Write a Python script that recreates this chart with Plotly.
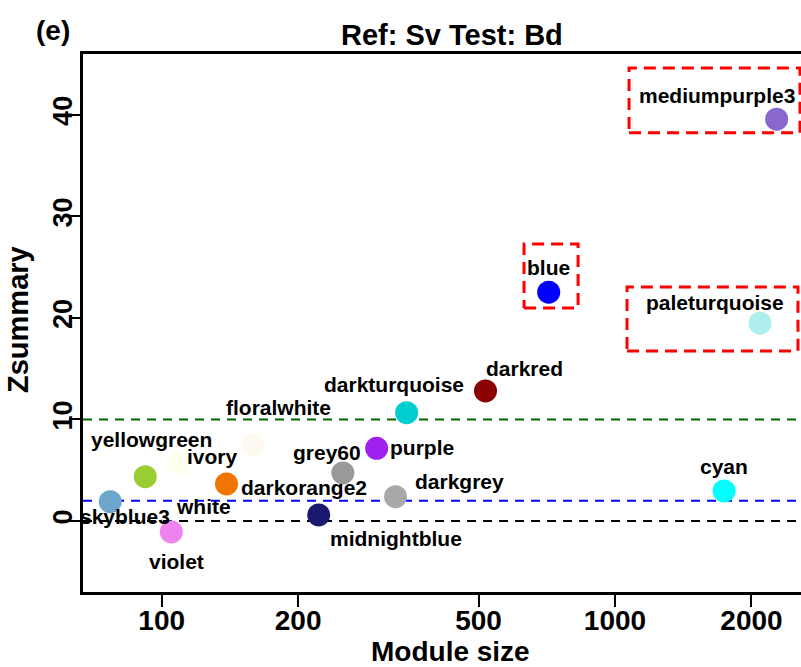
import numpy as np
import plotly.graph_objects as go

# ---- data ----
modules = ["skyblue3", "yellowgreen", "ivory", "violet", "darkorange2", "white",
           "floralwhite", "midnightblue", "grey60", "purple", "darkgrey",
           "darkturquoise", "darkred", "cyan", "blue", "paleturquoise", "mediumpurple3"]
module_size = [77, 92, 109, 105, 139, 122, 159, 222, 251, 298, 328, 347, 518, 1740, 714, 2089, 2273]
zsummary = [1.90, 4.36, 5.71, -1.08, 3.65, 3.25, 7.49, 0.59, 4.73, 7.16, 2.39,
            10.67, 12.81, 2.96, 22.53, 19.48, 39.58]
module_colors = ["#6CA6CD", "#9ACD32", "#FFFFF0", "#EE82EE", "#EE7600", "#FFFFFF",
                 "#FFFAF0", "#191970", "#999999", "#A020F0", "#A9A9A9",
                 "#00CED1", "#8B0000", "#00FFFF", "#0000FF", "#AFEEEE", "#8968CD"]
thresholds = [0, 2, 10]
threshold_colors = ["black", "blue", "darkgreen"]
x_ticks = [100, 200, 500, 1000, 2000]
y_ticks = [0, 10, 20, 30, 40]

# highlighted modules: box bounds (x0, x1, y0, y1) in data units
highlight_boxes = {
    "mediumpurple3": (1074, 2559, 38.23, 44.63),
    "blue": (630, 829, 20.99, 27.29),
    "paleturquoise": (1063, 2533, 16.75, 23.05),
}

# label pixel offsets (dx right, dy up) relative to each point
label_offsets = {
    "skyblue3": (15, -15), "yellowgreen": (6, 37), "ivory": (34, 6),
    "violet": (5, -30), "darkorange2": (77, -4), "white": (3, -19),
    "floralwhite": (26, 37), "midnightblue": (77, -24), "grey60": (-16, 20),
    "purple": (45, 1), "darkgrey": (64, 15), "darkturquoise": (-13, 28),
    "darkred": (39, 22), "cyan": (0, 24), "blue": (0, 25),
    "paleturquoise": (-45, 21), "mediumpurple3": (-60, 24),
}

FONT = "Liberation Sans"
W, H = 801, 667
ML, MR, MT, MB = 83, 0, 54, 75
pw, ph = W - ML - MR, H - MT - MB


def px(xp):
    return (xp - ML) / pw


def py(yp):
    return (H - MB - yp) / ph


fig = go.Figure()

# highlight boxes
for name, (x0, x1, y0, y1) in highlight_boxes.items():
    fig.add_trace(go.Scatter(
        x=[x0, x1, x1, x0, x0], y=[y0, y0, y1, y1, y0], mode="lines",
        line=dict(color="#FF0000", width=3, dash="12px,7px"),
        hoverinfo="skip", showlegend=False))

# points
fig.add_trace(go.Scatter(
    x=module_size, y=zsummary, mode="markers", text=modules,
    marker=dict(size=23, color=module_colors, line=dict(width=0)),
    showlegend=False))

annotations = []
for name, s, z in zip(modules, module_size, zsummary):
    dx, dy = label_offsets[name]
    annotations.append(dict(
        x=np.log10(s), y=z, xref="x", yref="y", text=name, showarrow=False,
        xshift=dx, yshift=dy, xanchor="center", yanchor="middle",
        font=dict(family=FONT, size=21, color="black", weight="bold")))

annotations += [
    dict(x=px(53), y=py(30), xref="paper", yref="paper", text="(e)", showarrow=False,
         xanchor="center", yanchor="middle",
         font=dict(family=FONT, size=28, color="black", weight="bold")),
    dict(x=px(452), y=py(35), xref="paper", yref="paper", text="Ref: Sv Test: Bd",
         showarrow=False, xanchor="center", yanchor="middle",
         font=dict(family=FONT, size=29, color="black", weight="bold")),
    dict(x=px(450), y=py(651), xref="paper", yref="paper", text="Module size",
         showarrow=False, xanchor="center", yanchor="middle",
         font=dict(family=FONT, size=28, color="black", weight="bold")),
    dict(x=px(18), y=py(320), xref="paper", yref="paper", text="Zsummary",
         showarrow=False, xanchor="center", yanchor="middle", textangle=-90,
         font=dict(family=FONT, size=29, color="black", weight="bold")),
]

shapes = []
for t, c in zip(thresholds, threshold_colors):
    shapes.append(dict(type="line", xref="paper", yref="y", x0=0, x1=1, y0=t, y1=t,
                       layer="below", line=dict(color=c, width=2, dash="9px,7px")))

fig.update_layout(
    width=W, height=H, margin=dict(l=ML, r=MR, t=MT, b=MB),
    paper_bgcolor="white", plot_bgcolor="white",
    annotations=annotations, shapes=shapes,
    xaxis=dict(type="log", range=[1.8264, 3.4103], tickvals=x_ticks,
               ticktext=[str(v) for v in x_ticks], ticks="outside", ticklen=12,
               tickwidth=2, tickcolor="black", showline=True, linecolor="black",
               linewidth=2.5, mirror=True, showgrid=False, zeroline=False,
               ticklabelstandoff=-10,
               tickfont=dict(family=FONT, size=28, color="black", weight="bold")),
    yaxis=dict(range=[-7.0, 46.0], tickvals=y_ticks, ticks="outside", ticklen=11,
               tickwidth=2, tickcolor="black", showline=True, linecolor="black",
               linewidth=2.5, showgrid=False, zeroline=False, tickangle=-90,
               ticklabelstandoff=-14,
               tickfont=dict(family=FONT, size=27, color="black", weight="bold")),
)

fig.write_html("out.html")
